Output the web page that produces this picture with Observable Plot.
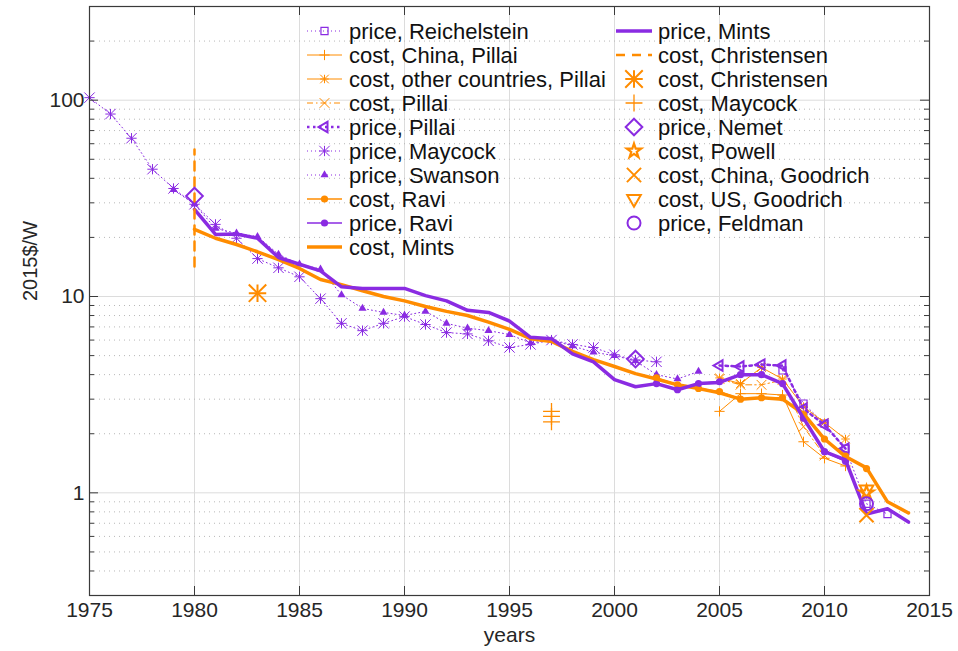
<!DOCTYPE html>
<html><head><meta charset="utf-8">
<script src="https://cdn.jsdelivr.net/npm/d3@7"></script>
<script src="https://cdn.jsdelivr.net/npm/@observablehq/plot@0.6"></script>
<style>
body{margin:0;background:#fff;}
#wrap{position:relative;width:958px;height:651px;font-family:"Liberation Sans",Arial,sans-serif;}
#legend{position:absolute;left:0;top:0;pointer-events:none;}
</style>
</head><body>
<div id="wrap"><div id="chart"></div><svg id="legend" width="958" height="651"></svg></div>
<script>
// ---------- ticks ----------
const xTicks = [1975,1980,1985,1990,1995,2000,2005,2010,2015];
const yMajor = [1,10,100];
const yMinor = [0.4,0.5,0.6,0.7,0.8,0.9,2,3,4,5,6,7,8,9,20,30,40,50,60,70,80,90,200];
const xTitle = "years";
const yTitle = "2015$/W";

// ---------- data ----------
const reichelsteinYears = [2008,2009,2010,2011,2012,2013];
const reichelsteinPrice = [4.2,2.85,2.25,1.68,0.88,0.78];

const pillaiYears = [2005,2006,2007,2008,2009,2010,2011];
const pillaiCostChina = [2.6,3.2,3.2,3.15,1.82,1.5,1.37];
const pillaiCostOther = [3.85,3.6,4.35,3.8,2.75,2.28,1.88];
const pillaiCostYears = [2005,2006,2007,2008,2009,2010];
const pillaiCost = [3.8,3.55,3.55,3.75,2.17,1.55];
const pillaiPrice = [4.45,4.4,4.5,4.45,2.68,2.22,1.68];

const maycockPriceYears = [1975,1976,1977,1978,1979,1980,1981,1982,1983,1984,1985,1986,1987,1988,1989,1990,1991,1992,1993,1994,1995,1996,1997,1998,1999,2000,2001,2002];
const maycockPrice = [103,85,64,44.5,35.5,29.5,23.3,19.8,15.6,14.0,12.6,9.75,7.3,6.7,7.3,7.9,7.2,6.55,6.45,5.95,5.5,5.7,6.0,5.7,5.5,5.05,4.75,4.65];

const swansonYears = [1979,1980,1981,1982,1983,1984,1985,1986,1987,1988,1989,1990,1991,1992,1993,1994,1995,1996,1997,1998,1999,2000,2001,2002,2003,2004];
const swansonPrice = [35,29.5,22.2,21,20.2,16.4,14.6,13.8,10.2,8.7,8.3,8.0,8.4,7.3,6.9,6.7,6.4,5.8,6.0,5.6,5.2,5.0,4.7,4.0,3.8,4.15];

const raviCostYears = [2002,2003,2004,2005,2006,2007,2008,2009,2010,2011,2012];
const raviCost = [3.85,3.55,3.4,3.28,3.0,3.05,3.05,2.5,1.88,1.54,1.33];
const raviPriceYears = [2002,2003,2004,2005,2006,2007,2008,2009,2010,2011];
const raviPrice = [3.6,3.35,3.6,3.68,4.0,4.0,3.6,2.4,1.62,1.45];

const mintsYears = [1980,1981,1982,1983,1984,1985,1986,1987,1988,1989,1990,1991,1992,1993,1994,1995,1996,1997,1998,1999,2000,2001,2002,2003,2004,2005,2006,2007,2008,2009,2010,2011,2012,2013,2014];
const mintsCost = [22,19.8,18.4,16.9,15.4,13.9,12.2,11.5,10.7,10.0,9.5,8.9,8.4,8.0,7.4,6.8,6.1,5.9,5.25,4.77,4.4,4.05,3.8,3.55,3.4,3.23,3.0,3.05,3.0,2.53,1.88,1.53,1.34,0.9,0.79];
const mintsPrice = [27.8,20.7,20.8,19.8,15.8,14.6,13.5,11.2,11.0,11.0,11.0,10.1,9.5,8.5,8.3,7.5,6.2,6.1,5.1,4.65,3.77,3.47,3.6,3.35,3.6,3.65,4.0,4.0,3.6,2.4,1.62,1.47,0.78,0.83,0.71];

const christensenRangeYears = [1980,1980];
const christensenRange = [14.2,56];
const christensenPointYears = [1983];
const christensenPoint = [10.4];
const maycockCostYears = [1997,1997,1997];
const maycockCost = [2.6,2.45,2.3];
const nemetYears = [1980,2001];
const nemetPrice = [32.5,4.8];
const powellYears = [2012];
const powellCost = [1.0];
const goodrichChinaYears = [2012];
const goodrichChinaCost = [0.77];
const goodrichUSYears = [2012];
const goodrichUSCost = [1.04];
const feldmanYears = [2012];
const feldmanPrice = [0.88];

// ---------- styles ----------
const purple = "#8a2be2", orange = "#ff8c00";
const rows = (ys, vs) => ys.map((y, i) => ({year: y, value: vs[i]}));

const series = [
  {label:"price, Reichelstein", color:purple, data:rows(reichelsteinYears,reichelsteinPrice), sw:1, dash:"1,3", symbol:"square", r:4, filled:false, msw:1.2},
  {label:"cost, China, Pillai", color:orange, data:rows(pillaiYears,pillaiCostChina), sw:1, dash:null, symbol:"plus", r:3.4, filled:false, msw:1},
  {label:"cost, other countries, Pillai", color:orange, data:rows(pillaiYears,pillaiCostOther), sw:1, dash:null, symbol:"asterisk8", r:4, filled:false, msw:1},
  {label:"cost, Pillai", color:orange, data:rows(pillaiCostYears,pillaiCost), sw:1, dash:"6,3,1.5,3", symbol:"times", r:4.5, filled:false, msw:1},
  {label:"price, Pillai", color:purple, data:rows(pillaiYears,pillaiPrice), sw:2.5, dash:"2.5,3.5", symbol:"triangle2", r:5, rotate:-90, filled:false, msw:2},
  {label:"price, Maycock", color:purple, data:rows(maycockPriceYears,maycockPrice), sw:1, dash:"1,3", symbol:"asterisk8", r:4.8, filled:false, msw:1},
  {label:"price, Swanson", color:purple, data:rows(swansonYears,swansonPrice), sw:1, dash:"1,3", symbol:"triangle", r:3, filled:true, msw:0},
  {label:"cost, Ravi", color:orange, data:rows(raviCostYears,raviCost), sw:1.6, dash:null, symbol:"circle", r:3.6, filled:true, msw:0},
  {label:"price, Ravi", color:purple, data:rows(raviPriceYears,raviPrice), sw:1.6, dash:null, symbol:"circle", r:3.6, filled:true, msw:0},
  {label:"cost, Mints", color:orange, data:rows(mintsYears,mintsCost), sw:3.5, dash:null, symbol:null},
  {label:"price, Mints", color:purple, data:rows(mintsYears,mintsPrice), sw:3.5, dash:null, symbol:null},
  {label:"cost, Christensen", color:orange, data:rows(christensenRangeYears,christensenRange), sw:2.5, dash:"9,7", symbol:null},
  {label:"cost, Christensen", color:orange, data:rows(christensenPointYears,christensenPoint), sw:0, symbol:"asterisk8", r:8, filled:false, msw:2},
  {label:"cost, Maycock", color:orange, data:rows(maycockCostYears,maycockCost), sw:0, symbol:"plus", r:5.5, filled:false, msw:1.3},
  {label:"price, Nemet", color:purple, data:rows(nemetYears,nemetPrice), sw:0, symbol:"diamond2", r:7.5, filled:false, msw:2},
  {label:"cost, Powell", color:orange, data:rows(powellYears,powellCost), sw:0, symbol:"star", r:4.5, filled:false, msw:2.2},
  {label:"cost, China, Goodrich", color:orange, data:rows(goodrichChinaYears,goodrichChinaCost), sw:0, symbol:"times", r:6.5, filled:false, msw:2},
  {label:"cost, US, Goodrich", color:orange, data:rows(goodrichUSYears,goodrichUSCost), sw:0, symbol:"triangle2", r:6.5, rotate:180, filled:false, msw:2},
  {label:"price, Feldman", color:purple, data:rows(feldmanYears,feldmanPrice), sw:0, symbol:"circle", r:6.5, filled:false, msw:2},
];

// an 8-armed asterisk is drawn as a plus and a times on top of each other
const parts = s => s.symbol === "asterisk8"
  ? [{symbol: "plus", r: s.r * 0.71, rotate: 0}, {symbol: "times", r: s.r, rotate: 0}]
  : [{symbol: s.symbol, r: s.r, rotate: s.rotate || 0}];

// ---------- layout ----------
const W = 958, H = 651;
const mL = 89, mR = 29, mT = 6, mB = 56;
const pW = W - mL - mR, pH = H - mT - mB;
const frameColor = "#3a3a3a";
const textColor = "#262626";
const FONT = '"Liberation Sans", Arial, sans-serif';

const marks = [
  Plot.ruleX(xTicks, {x: d => d, stroke: "#dcdcdc", strokeWidth: 1}),
  Plot.ruleY(yMinor, {y: d => d, stroke: "#b8b8b8", strokeWidth: 1, strokeDasharray: "1,4"}),
  Plot.ruleY(yMajor, {y: d => d, stroke: "#dcdcdc", strokeWidth: 1}),
];
for (const s of series) {
  if (s.sw > 0) marks.push(Plot.line(s.data, {x: "year", y: "value", stroke: s.color, strokeWidth: s.sw, strokeDasharray: s.dash || undefined}));
  if (s.symbol) for (const p of parts(s)) marks.push(Plot.dot(s.data, {
    x: "year", y: "value", symbol: p.symbol, r: p.r, rotate: p.rotate,
    fill: s.filled ? s.color : "none", stroke: s.filled ? "none" : s.color, strokeWidth: s.msw
  }));
}
// frame, inward ticks, tick labels and titles
marks.push(
  Plot.frame({stroke: frameColor, strokeWidth: 1.2}),
  Plot.ruleX(xTicks, {x: d => d, stroke: frameColor, insetTop: pH - 9}),
  Plot.ruleX(xTicks, {x: d => d, stroke: frameColor, insetBottom: pH - 9}),
  Plot.ruleY(yMajor, {y: d => d, stroke: frameColor, insetRight: pW - 9}),
  Plot.ruleY(yMajor, {y: d => d, stroke: frameColor, insetLeft: pW - 9}),
  Plot.ruleY(yMinor, {y: d => d, stroke: frameColor, insetRight: pW - 5}),
  Plot.ruleY(yMinor, {y: d => d, stroke: frameColor, insetLeft: pW - 5}),
  Plot.text(xTicks, {x: d => d, frameAnchor: "bottom", lineAnchor: "top", dy: 7, text: d => String(d), fontSize: 21, fill: textColor, fontFamily: FONT}),
  Plot.text(yMajor, {y: d => d, frameAnchor: "left", textAnchor: "end", dx: -5, text: d => String(d), fontSize: 21, fill: textColor, fontFamily: FONT}),
  Plot.text([xTitle], {frameAnchor: "bottom", lineAnchor: "top", dy: 32, text: d => d, fontSize: 21, fill: textColor, fontFamily: FONT}),
  Plot.text([yTitle], {frameAnchor: "left", dx: -59, rotate: -90, text: d => d, fontSize: 20, fill: textColor, fontFamily: FONT})
);

const chart = Plot.plot({
  width: W, height: H,
  marginLeft: mL, marginRight: mR, marginTop: mT, marginBottom: mB,
  x: {domain: [1975, 2015], axis: null},
  y: {type: "log", domain: [0.3, 300], axis: null},
  style: {fontFamily: FONT, color: textColor, background: "white", overflow: "visible"},
  marks
});
document.getElementById("chart").appendChild(chart);

// ---------- legend (inside the axes, two columns) ----------
const symMap = {square: d3.symbolSquare, plus: d3.symbolPlus, times: d3.symbolTimes,
  triangle: d3.symbolTriangle, triangle2: d3.symbolTriangle2, circle: d3.symbolCircle, diamond2: d3.symbolDiamond2, star: d3.symbolStar};
const leg = d3.select("#legend");
const colX = [[307, 342, 349], [616, 652, 658]];
const rowY0 = 31, rowDY = 24;
series.forEach((s, i) => {
  const c = i < 10 ? 0 : 1, k = i < 10 ? i : i - 10;
  const [x1, x2, tx] = colX[c];
  const y = rowY0 + k * rowDY;
  const g = leg.append("g");
  if (s.sw > 0) {
    g.append("line").attr("x1", x1).attr("x2", x2).attr("y1", y).attr("y2", y)
      .attr("stroke", s.color).attr("stroke-width", s.sw).attr("stroke-dasharray", s.dash || null);
  }
  if (s.symbol) for (const p of parts(s)) {
    g.append("path").attr("d", d3.symbol(symMap[p.symbol], Math.PI * p.r * p.r)())
      .attr("transform", `translate(${(x1 + x2) / 2},${y}) rotate(${p.rotate})`)
      .attr("fill", s.filled ? s.color : "none").attr("stroke", s.filled ? "none" : s.color).attr("stroke-width", s.msw);
  }
  g.append("text").attr("x", tx).attr("y", y).attr("dy", "0.36em")
    .attr("font-family", FONT).attr("font-size", 22).attr("fill", "#111")
    .text(s.label);
});
</script>
</body></html>
